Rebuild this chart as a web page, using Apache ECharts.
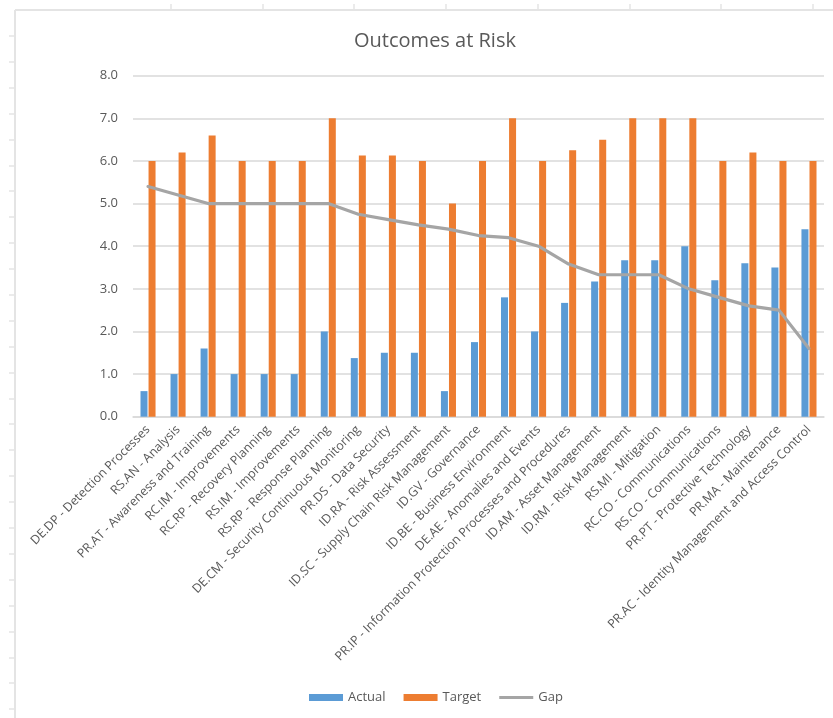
<!DOCTYPE html>
<html>
<head>
<meta charset="utf-8">
<script src="https://cdn.jsdelivr.net/npm/echarts@6/dist/echarts.min.js"></script>
<style>
  html, body { margin: 0; padding: 0; background: #ffffff; }
  #chart { width: 833px; height: 718px; }
</style>
</head>
<body>
<div id="chart"></div>
<script>
// Framework outcomes with their current maturity score, target score and the gap between them
const categories = [
  'DE.DP - Detection Processes',
  'RS.AN - Analysis',
  'PR.AT - Awareness and Training',
  'RC.IM - Improvements',
  'RC.RP - Recovery Planning',
  'RS.IM - Improvements',
  'RS.RP - Response Planning',
  'DE.CM - Security Continuous Monitoring',
  'PR.DS - Data Security',
  'ID.RA - Risk Assessment',
  'ID.SC - Supply Chain Risk Management',
  'ID.GV - Governance',
  'ID.BE - Business Environment',
  'DE.AE - Anomalies and Events',
  'PR.IP - Information Protection Processes and Procedures',
  'ID.AM - Asset Management',
  'ID.RM - Risk Management',
  'RS.MI - Mitigation',
  'RC.CO - Communications',
  'RS.CO - Communications',
  'PR.PT - Protective Technology',
  'PR.MA - Maintenance',
  'PR.AC - Identity Management and Access Control'
];

const actual = [0.6, 1.0, 1.6, 1.0, 1.0, 1.0, 2.0, 1.375, 1.5, 1.5, 0.6, 1.75, 2.8, 2.0, 2.67, 3.17, 3.67, 3.67, 4.0, 3.2, 3.6, 3.5, 4.4];
const target = [6.0, 6.2, 6.6, 6.0, 6.0, 6.0, 7.0, 6.125, 6.125, 6.0, 5.0, 6.0, 7.0, 6.0, 6.25, 6.5, 7.0, 7.0, 7.0, 6.0, 6.2, 6.0, 6.0];
const gap = [5.4, 5.2, 5.0, 5.0, 5.0, 5.0, 5.0, 4.75, 4.625, 4.5, 4.4, 4.25, 4.2, 4.0, 3.58, 3.33, 3.33, 3.33, 3.0, 2.8, 2.6, 2.5, 1.6];

const yTicks = { min: 0, max: 8, step: 1 };

const textColor = '#595959';
const font = 'Open Sans';

// Spreadsheet sheet edges around the chart object
const sheetLine = '#e4e4e4';
const edgeShapes = [
  { type: 'line', shape: { x1: 15, y1: 10, x2: 833, y2: 10 }, style: { stroke: sheetLine, lineWidth: 2 } },
  { type: 'line', shape: { x1: 15, y1: 10, x2: 15, y2: 718 }, style: { stroke: sheetLine, lineWidth: 2 } }
];
for (let y = 36; y < 718; y += 25.9) {
  edgeShapes.push({ type: 'line', shape: { x1: 9, y1: Math.round(y), x2: 15, y2: Math.round(y) }, style: { stroke: sheetLine, lineWidth: 1.5 } });
}
for (let x = 171; x < 833; x += 91.7) {
  edgeShapes.push({ type: 'line', shape: { x1: Math.round(x), y1: 4, x2: Math.round(x), y2: 10 }, style: { stroke: sheetLine, lineWidth: 1.5 } });
}

const chart = echarts.init(document.getElementById('chart'), null, { renderer: 'canvas' });
chart.setOption({
  animation: false,
  backgroundColor: '#ffffff',
  graphic: edgeShapes,
  title: {
    text: 'Outcomes at Risk',
    left: 430,
    textAlign: 'center',
    top: 26,
    textStyle: { fontFamily: font, fontSize: 20, fontWeight: 'normal', color: textColor }
  },
  legend: {
    bottom: 9,
    left: 304,
    itemWidth: 34,
    itemHeight: 7,
    itemGap: 18,
    symbolKeepAspect: true,
    textStyle: { fontFamily: font, fontSize: 13, color: textColor },
    data: [
      { name: 'Actual', icon: 'rect' },
      { name: 'Target', icon: 'rect' },
      { name: 'Gap', icon: 'path://M0,0L34,0L34,3L0,3Z', symbolKeepAspect: true }
    ]
  },
  grid: { left: 133, right: 9, top: 75.7, bottom: 301.3, containLabel: false },
  xAxis: {
    type: 'category',
    data: categories,
    axisLine: { lineStyle: { color: '#d9d9d9', width: 1.5 } },
    axisTick: { show: false },
    axisLabel: {
      interval: 0,
      rotate: 45,
      margin: 11,
      fontFamily: font,
      fontSize: 12.4,
      color: textColor
    }
  },
  yAxis: {
    type: 'value',
    min: yTicks.min,
    max: yTicks.max,
    interval: yTicks.step,
    axisLine: { show: false },
    axisTick: { show: false },
    splitLine: { lineStyle: { color: '#d9d9d9', width: 1.5 } },
    axisLabel: {
      margin: 15,
      fontFamily: font,
      fontSize: 13,
      color: textColor,
      formatter: v => v.toFixed(1)
    }
  },
  series: [
    {
      name: 'Actual',
      type: 'bar',
      data: actual,
      barWidth: 7,
      barGap: '15%',
      itemStyle: { color: '#5b9bd5' }
    },
    {
      name: 'Target',
      type: 'bar',
      data: target,
      barWidth: 7,
      itemStyle: { color: '#ed7d31' }
    },
    {
      name: 'Gap',
      type: 'line',
      data: gap,
      symbol: 'none',
      lineStyle: { color: '#a5a5a5', width: 3.2, cap: 'round', join: 'round' },
      itemStyle: { color: '#a5a5a5' },
      z: 5
    }
  ]
});
</script>
</body>
</html>
